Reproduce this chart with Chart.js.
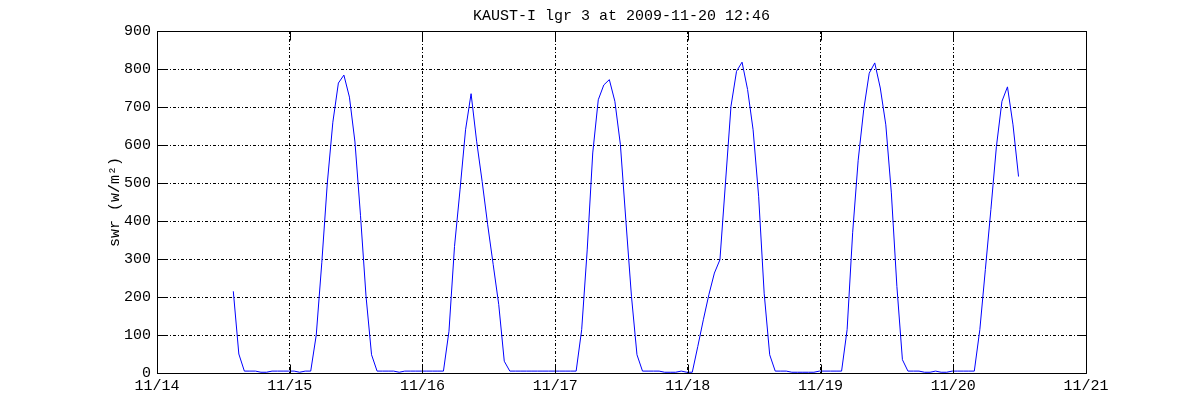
<!DOCTYPE html>
<html>
<head>
<meta charset="utf-8">
<title>KAUST-I lgr 3 swr</title>
<script src="https://cdn.jsdelivr.net/npm/chart.js@4/dist/chart.umd.min.js"></script>
<style>
    html, body { margin: 0; padding: 0; background: #fff; }
    #wrap { width: 1200px; height: 420px; }
</style>
</head>
<body>
<div id="wrap"><canvas id="swrChart" width="1200" height="420"></canvas></div>
<script>
// Axis labels (days since 11/14 00:00)
const dayLabels = ['11/14', '11/15', '11/16', '11/17', '11/18', '11/19', '11/20', '11/21'];
const yTicks = [0, 100, 200, 300, 400, 500, 600, 700, 800, 900];

// hourly samples, first one at 11/14 ~13:48
const firstSampleHour = 13.8;
const swrValues = [
    215, 50, 5, 5, 5, 2, 2, 5, 5, 5, 5, 5, 2, 5, 5,          // 11/14 pm / night
    100, 290, 500, 660, 763, 784, 726, 608, 415, 202, 48, 5,  // 11/15
    5, 5, 5, 2, 5, 5, 5, 5, 5, 5, 5, 5,
    110, 333, 482, 640, 735, 610, 504, 390, 285, 180, 31, 5,  // 11/16
    5, 5, 5, 5, 5, 5, 5, 5, 5, 5, 5, 5,
    114, 324, 579, 719, 758, 772, 715, 601, 399, 202, 48, 5,  // 11/17
    5, 5, 5, 2, 2, 2, 5, 2, 2,
    70, 140, 206, 263, 298, 500, 702, 794, 818, 746, 640, 465, 210, 48, 5, // 11/18
    5, 5, 2, 2, 2, 2, 2, 5, 5, 5, 5, 5,
    114, 369, 560, 693, 789, 816, 750, 653, 474, 228, 35, 5,  // 11/19
    5, 5, 2, 2, 5, 2, 2, 5, 5, 5, 5, 5,
    114, 272, 430, 596, 715, 753, 653, 517                    // 11/20
];

const points = swrValues.map((v, i) => ({ x: (firstSampleHour + i) / 24, y: v }));

const monoFont = "'Liberation Mono', 'DejaVu Sans Mono', monospace";

// MATLAB style box with inward ticks on all four sides
const boxPlugin = {
    id: 'matlabBox',
    afterDraw(chart) {
        const { ctx, chartArea: a, scales } = chart;
        const len = 9;
        ctx.save();
        ctx.strokeStyle = '#000';
        ctx.lineWidth = 1;
        ctx.beginPath();
        const L = Math.round(a.left) + 0.5, R = Math.round(a.right) + 0.5;
        const T = Math.round(a.top) + 0.5, B = Math.round(a.bottom) + 0.5;
        ctx.rect(L, T, R - L, B - T);
        yTicks.forEach(v => {
            const y = Math.round(scales.y.getPixelForValue(v)) + 0.5;
            ctx.moveTo(L, y); ctx.lineTo(L + len, y);
            ctx.moveTo(R, y); ctx.lineTo(R - len, y);
        });
        dayLabels.forEach((d, i) => {
            const x = Math.round(scales.x.getPixelForValue(i)) + 0.5;
            ctx.moveTo(x, B); ctx.lineTo(x, B - len);
            ctx.moveTo(x, T); ctx.lineTo(x, T + len);
        });
        ctx.stroke();
        ctx.restore();
    }
};

new Chart(document.getElementById('swrChart'), {
    type: 'line',
    data: {
        datasets: [{
            data: points,
            borderColor: '#0000ff',
            borderWidth: 1,
            pointRadius: 0,
            tension: 0,
            fill: false
        }]
    },
    options: {
        responsive: false,
        animation: false,
        layout: { padding: { left: 0, right: 114, top: 0, bottom: 0 } },
        plugins: {
            legend: { display: false },
            tooltip: { enabled: false },
            title: {
                display: true,
                fullSize: false,
                text: 'KAUST-I lgr 3 at 2009-11-20 12:46',
                color: '#000',
                font: { family: monoFont, size: 15, weight: 'normal' },
                padding: { top: 7, bottom: 6 }
            }
        },
        scales: {
            x: {
                type: 'linear',
                min: 0,
                max: 7,
                afterFit: s => { s.height = 47; },
                afterBuildTicks: s => { s.ticks = dayLabels.map((d, i) => ({ value: i })); },
                ticks: {
                    color: '#000',
                    padding: 4,
                    maxRotation: 0,
                    autoSkip: false,
                    font: { family: monoFont, size: 15 },
                    callback: v => dayLabels[v]
                },
                grid: { color: '#000', drawTicks: false, lineWidth: 1 },
                border: { display: false, dash: [3, 2, 1, 2] }
            },
            y: {
                min: 0,
                max: 900,
                afterFit: s => { s.width = 157; },
                afterBuildTicks: s => { s.ticks = yTicks.map(v => ({ value: v })); },
                ticks: {
                    color: '#000',
                    padding: 6,
                    font: { family: monoFont, size: 15 }
                },
                title: {
                    display: true,
                    text: 'swr (w/m²)',
                    color: '#000',
                    font: { family: monoFont, size: 15 },
                    padding: { top: 106, bottom: 0 }
                },
                grid: { color: '#000', drawTicks: false, lineWidth: 1 },
                border: { display: false, dash: [3, 2, 1, 2] }
            }
        }
    },
    plugins: [boxPlugin]
});
</script>
</body>
</html>
